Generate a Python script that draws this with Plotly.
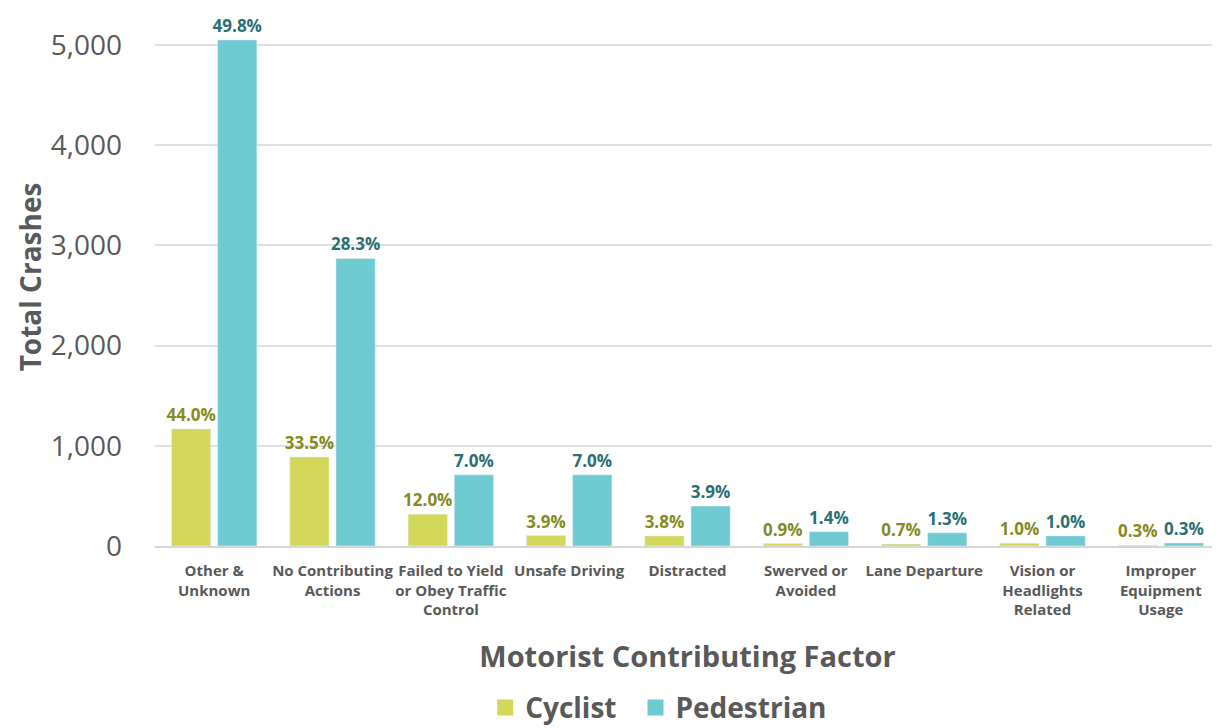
import plotly.graph_objects as go

categories = ["Other &<br>Unknown", "No Contributing<br>Actions", "Failed to Yield<br>or Obey Traffic<br>Control",
              "Unsafe Driving", "Distracted", "Swerved or<br>Avoided", "Lane Departure",
              "Vision or<br>Headlights<br>Related", "Improper<br>Equipment<br>Usage"]
cyclist = [1168, 889, 318, 104, 101, 24, 19, 27, 8]
pedestrian = [5050, 2870, 710, 710, 398, 142, 132, 101, 30]
cyclist_pct = ["44.0%", "33.5%", "12.0%", "3.9%", "3.8%", "0.9%", "0.7%", "1.0%", "0.3%"]
pedestrian_pct = ["49.8%", "28.3%", "7.0%", "7.0%", "3.9%", "1.4%", "1.3%", "1.0%", "0.3%"]
y_ticks = [0, 1000, 2000, 3000, 4000, 5000]

FONT = "Open Sans, Noto Sans, sans-serif"
CYC = "#d4d85a"
PED = "#6ecbd1"
fig = go.Figure()
fig.add_trace(go.Bar(name="Cyclist", x=categories, y=cyclist, marker_color=CYC, showlegend=False,
                     text=cyclist_pct, textposition="outside", cliponaxis=False,
                     textfont=dict(color="#858a22", size=17, family=FONT, weight="bold")))
fig.add_trace(go.Bar(name="Pedestrian", x=categories, y=pedestrian, marker_color=PED, showlegend=False,
                     text=pedestrian_pct, textposition="outside", cliponaxis=False,
                     textfont=dict(color="#2a6f74", size=17, family=FONT, weight="bold")))
# legend entries with larger square swatches
for name, col in [("Cyclist\u2002", CYC), ("Pedestrian", PED)]:
    fig.add_trace(go.Scatter(name=name, x=[None], y=[None], mode="markers",
                             marker=dict(symbol="square", size=17, color=col)))

fig.update_layout(
    width=1212, height=720,
    margin=dict(l=147, r=0, t=0, b=182, autoexpand=False),
    paper_bgcolor="white", plot_bgcolor="white",
    barmode="group", bargap=0.22, bargroupgap=0.15,
    font=dict(family=FONT, color="#595959"),
    uniformtext=dict(minsize=17, mode="show"),
    legend=dict(orientation="h", x=0.31, xanchor="left", yref="container", y=0.028, yanchor="middle",
                font=dict(size=28, color="#595959", weight="bold"), itemwidth=30, tracegroupgap=0),
    xaxis=dict(tickfont=dict(size=15, color="#595959", weight="bold"), ticks="", tickangle=0,
               showline=True, linecolor="#d6d6d6", linewidth=2, ticklabelstandoff=10,
               title=dict(text="Motorist Contributing Factor", font=dict(size=29, weight="bold", color="#595959"),
                          standoff=29)),
    yaxis=dict(range=[0, 5369], tickvals=y_ticks, tickformat=",", tickfont=dict(size=28, color="#595959"),
               gridcolor="#e0e0e0", gridwidth=2, zeroline=False, ticklabelstandoff=32,
               title=dict(text="Total Crashes", font=dict(size=28, weight="bold", color="#595959"), standoff=0)),
)
fig.write_html("out.html")
